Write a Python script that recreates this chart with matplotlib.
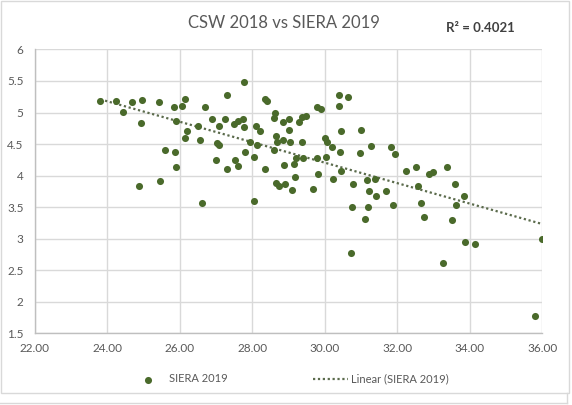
import numpy as np
import matplotlib.pyplot as plt
from matplotlib.lines import Line2D
from matplotlib.patches import Rectangle

plt.rcParams['font.family'] = ['Lato', 'DejaVu Sans']

# CSW 2018 (x) vs SIERA 2019 (y)
csw_2018 = [
    23.81, 24.25, 24.44, 24.69, 24.97, 24.94, 25.43, 25.85, 26.07, 26.15,
    25.90, 26.70, 27.31, 26.21, 26.15, 26.51, 26.57, 26.90, 27.09, 27.25,
    27.03, 27.09, 25.60, 25.88, 25.90, 27.01, 27.31, 24.88, 25.46, 26.62,
    27.78, 28.35, 28.41, 30.40, 30.65, 30.40, 29.79, 29.90, 27.50, 27.61,
    27.75, 27.77, 28.10, 28.22, 28.62, 28.60, 28.86, 29.00, 29.02, 29.28,
    29.38, 29.48, 28.66, 28.69, 28.86, 29.05, 29.38, 27.94, 28.14, 27.81,
    27.53, 27.61, 28.06, 28.36, 28.61, 28.88, 29.15, 29.22, 29.41, 29.79,
    30.04, 30.01, 30.07, 30.21, 30.43, 30.46, 31.01, 30.97, 31.28, 30.46,
    29.82, 30.23, 28.65, 28.73, 28.91, 29.19, 29.10, 29.68, 30.79, 31.17,
    31.39, 31.22, 31.42, 31.70, 31.83, 31.93, 28.06, 30.76, 31.20, 31.12,
    31.89, 30.73, 32.25, 32.52, 32.87, 32.98, 33.38, 33.60, 32.58, 32.66,
    33.85, 33.63, 32.74, 33.51, 33.88, 34.15, 33.27, 36.00, 35.81,
]
siera_2019 = [
    5.19, 5.18, 5.01, 5.17, 5.20, 4.84, 5.16, 5.08, 5.10, 5.22,
    4.87, 5.08, 5.28, 4.71, 4.60, 4.79, 4.57, 4.89, 4.79, 4.89,
    4.51, 4.49, 4.41, 4.38, 4.14, 4.25, 4.11, 3.83, 3.91, 3.57,
    5.49, 5.21, 5.19, 5.27, 5.25, 5.10, 5.08, 5.05, 4.82, 4.86,
    4.90, 4.77, 4.79, 4.71, 4.99, 4.91, 4.85, 4.89, 4.73, 4.85,
    4.93, 4.95, 4.63, 4.53, 4.57, 4.54, 4.54, 4.53, 4.49, 4.38,
    4.25, 4.15, 4.30, 4.10, 4.41, 4.16, 4.19, 4.28, 4.28, 4.28,
    4.30, 4.60, 4.53, 4.46, 4.38, 4.71, 4.73, 4.36, 4.47, 4.08,
    4.02, 3.95, 3.89, 3.84, 3.87, 3.97, 3.77, 3.79, 3.87, 3.93,
    3.95, 3.75, 3.68, 3.76, 4.46, 4.35, 3.60, 3.50, 3.50, 3.31,
    3.54, 2.78, 4.07, 4.14, 4.02, 4.06, 4.14, 3.87, 3.84, 3.56,
    3.68, 3.53, 3.35, 3.29, 2.94, 2.92, 2.62, 3.00, 1.78,
]

x_ticks = [22, 24, 26, 28, 30, 32, 34, 36]
y_ticks = [1.5, 2, 2.5, 3, 3.5, 4, 4.5, 5, 5.5, 6]
r_squared_text = "R² = 0.4021"

GREEN = '#4a6a2b'
TEXT = '#595959'
GRID = '#d9d9d9'

fig = plt.figure(figsize=(5.72, 4.05), dpi=100)
ax = fig.add_axes([0.0607, 0.177, 0.8874, 0.701])

x = np.array(csw_2018)
y = np.array(siera_2019)
ax.scatter(x, y, s=26, color=GREEN, zorder=3, linewidths=0, label='SIERA 2019')

# linear trendline over the data range
slope, intercept = np.polyfit(x, y, 1)
xl = np.array([x.min(), x.max()])
ax.plot(xl, slope * xl + intercept, color='#5b6b4c', lw=1.6,
        linestyle=(0, (1, 1.2)), zorder=2, label='Linear (SIERA 2019)')

ax.set_xlim(22, 36)
ax.set_ylim(1.5, 6)
ax.set_xticks(x_ticks)
ax.set_xticklabels([f"{t:.2f}" for t in x_ticks])
ax.set_yticks(y_ticks)
ax.set_yticklabels([f"{t:g}" for t in y_ticks])
ax.tick_params(length=0, labelsize=8.5, colors=TEXT, pad=7)
ax.tick_params(axis='y', pad=8)
ax.grid(True, color=GRID, lw=1)
ax.set_axisbelow(True)
for side in ['top', 'right']:
    ax.spines[side].set_visible(False)
for side in ['left', 'bottom']:
    ax.spines[side].set_color('#bfbfbf')
    ax.spines[side].set_linewidth(1)

fig.text(284 / 572, 1 - 23 / 405, "CSW 2018 vs SIERA 2019", ha='center', va='center',
         fontsize=12, color=TEXT)
fig.text(480 / 572, 1 - 28 / 405, r_squared_text, ha='center', va='center',
         fontsize=9.5, color='#404040', fontweight='bold')

# legend below the plot
fig.legend(loc='center left', bbox_to_anchor=(131 / 572, 1 - 379 / 405), ncol=2,
           frameon=False, fontsize=8, labelcolor=TEXT, columnspacing=7.7,
           handlelength=3.1, handletextpad=0.3, borderpad=0, borderaxespad=0)

# chart border
W, H = 572, 405
fig.add_artist(Rectangle((1 / W, 1 - 393 / H), 568 / W, 392 / H, transform=fig.transFigure,
                         fill=False, edgecolor='#d9d9d9', lw=1))
fig.add_artist(Line2D([0, 567 / W], [1 - 403 / H] * 2, transform=fig.transFigure,
                      color='#d9d9d9', lw=1))
fig.add_artist(Line2D([567 / W] * 2, [1 - 393 / H, 1 - 403 / H], transform=fig.transFigure,
                      color='#d9d9d9', lw=1))

fig.savefig('out.png', dpi=100)
